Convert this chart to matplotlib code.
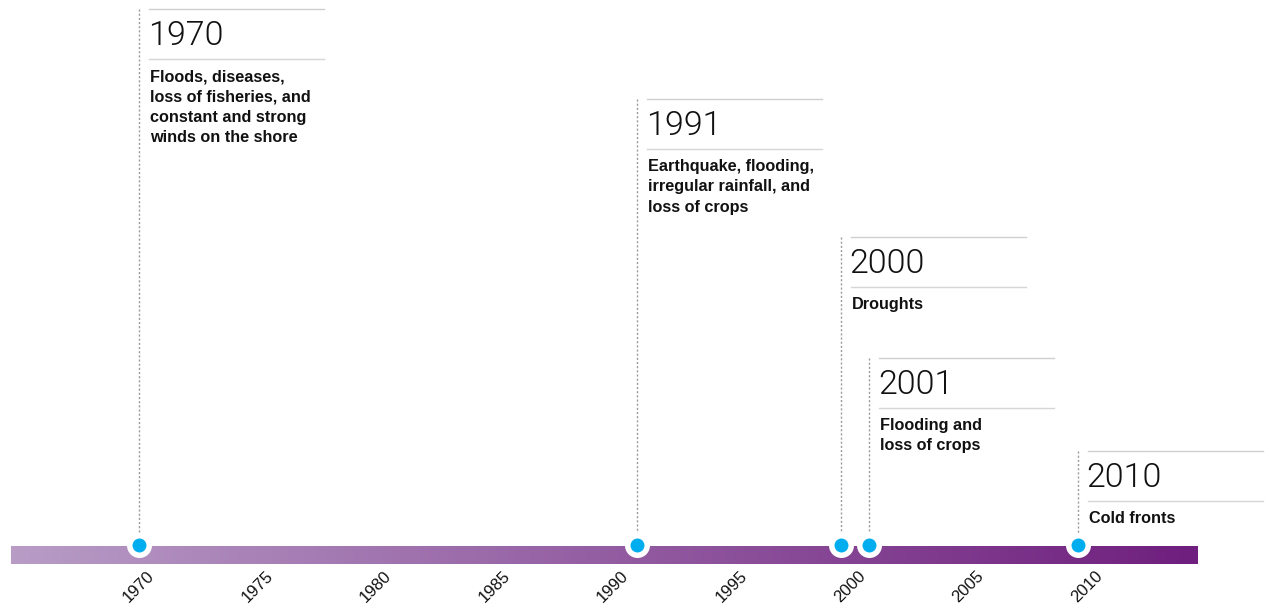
import matplotlib.pyplot as plt
import numpy as np
from matplotlib.colors import LinearSegmentedColormap

# events on the timeline
event_years = ["1970", "1991", "2000", "2001", "2010"]
event_pos = [1970.0, 1991.0, 1999.6, 2000.8, 2009.6]
descriptions = [
    "Floods, diseases,\nloss of fisheries, and\nconstant and strong\nwinds on the shore",
    "Earthquake, flooding,\nirregular rainfall, and\nloss of crops",
    "Droughts",
    "Flooding and\nloss of crops",
    "Cold fronts",
]
tick_years = [1970, 1975, 1980, 1985, 1990, 1995, 2000, 2005, 2010]
bar_start, bar_end = 1964.6, 2014.65

# layout (pixels from top)
box_top = [9, 99, 237, 358, 451]

W, H = 1268, 606
fig = plt.figure(figsize=(W / 100, H / 100), dpi=100)
ax = fig.add_axes([0, 38 / H, 1, 568 / H])
xmin, xmax = 1964.135, 2017.637
ax.set_xlim(xmin, xmax)
ax.set_ylim(568, 0)
ppy = W / (xmax - xmin)  # pixels per year

def px(n):
    return n / ppy

# gradient bar
cmap = LinearSegmentedColormap.from_list("bar", ["#b89cc6", "#6f1f7e"])
ax.imshow(np.linspace(0, 1, 256)[None, :], extent=[bar_start, bar_end, 564, 546],
          cmap=cmap, aspect="auto", zorder=1)

for yr, pos, desc, top in zip(event_years, event_pos, descriptions, box_top):
    ax.plot([pos, pos], [top, 545], color="#9a9a9a", lw=1,
            linestyle=(0, (1.5, 1.5)), zorder=2)
    ax.plot([pos + px(10), pos + px(185)], [top, top], color="#cfcfcf", lw=1, zorder=2)
    ax.plot([pos + px(10), pos + px(185)], [top + 50, top + 50], color="#d6d6d6", lw=1, zorder=2)
    ax.text(pos + px(9), top + 27, yr, fontsize=24.5, family=["Roboto", "DejaVu Sans"],
            weight=300, color="#111111", va="center", ha="left")
    ax.text(pos + px(11), top + 60, desc, fontsize=11.7, family=["Liberation Sans", "DejaVu Sans"],
            weight="bold", color="#111111", va="top", ha="left", linespacing=1.45)

ax.scatter(event_pos, [545] * len(event_pos), s=324, color="white", zorder=3, linewidths=0)
ax.scatter(event_pos, [545] * len(event_pos), s=101, color="#00aeef", zorder=4, linewidths=0)

ax.set_xticks(tick_years, labels=[str(t) for t in tick_years])
ax.tick_params(axis="x", length=0, pad=0, labelsize=12, rotation=45, labelcolor="#111111")
for lab in ax.get_xticklabels():
    lab.set_family(["Liberation Sans", "DejaVu Sans"])
ax.set_yticks([])
for s in ax.spines.values():
    s.set_visible(False)

fig.savefig("out.png", dpi=100)
